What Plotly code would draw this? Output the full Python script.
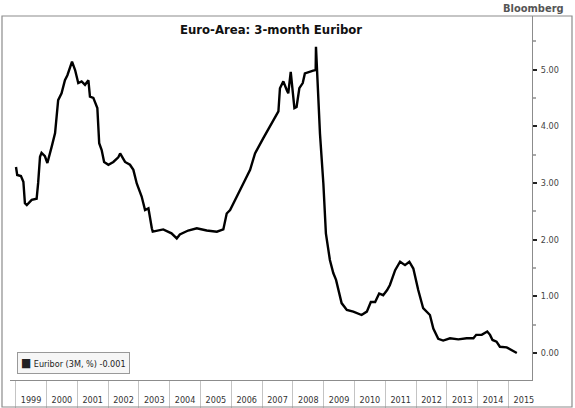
import plotly.graph_objects as go
import pandas as pd

# decimal year positions and 3-month Euribor values (%)
years_dec = [
    1999.01, 1999.05, 1999.17, 1999.25, 1999.30, 1999.36, 1999.52, 1999.68, 1999.73, 1999.79,
    1999.84, 1999.95, 2000.03, 2000.09, 2000.17, 2000.28, 2000.38, 2000.49, 2000.60, 2000.68,
    2000.74, 2000.83, 2000.93, 2001.03, 2001.14, 2001.25, 2001.36, 2001.41, 2001.52, 2001.65,
    2001.71, 2001.79, 2001.87, 2002.01, 2002.17, 2002.33, 2002.39, 2002.55, 2002.71, 2002.82,
    2002.93, 2003.09, 2003.20, 2003.31, 2003.42, 2003.45, 2003.79, 2004.06, 2004.23, 2004.33,
    2004.60, 2004.88, 2005.20, 2005.53, 2005.74, 2005.85, 2005.96, 2006.28, 2006.39, 2006.61,
    2006.77, 2007.04, 2007.36, 2007.53, 2007.58, 2007.69, 2007.80, 2007.85, 2007.93, 2007.99,
    2008.05, 2008.12, 2008.21, 2008.32, 2008.39, 2008.66, 2008.74, 2008.75, 2008.79, 2008.88,
    2008.99, 2009.04, 2009.07, 2009.20, 2009.31, 2009.40, 2009.47, 2009.58, 2009.75, 2009.96,
    2010.23, 2010.40, 2010.53, 2010.67, 2010.80, 2010.93, 2011.06, 2011.15, 2011.32, 2011.48,
    2011.64, 2011.78, 2011.91, 2012.07, 2012.23, 2012.45, 2012.56, 2012.72, 2012.88, 2013.10,
    2013.37, 2013.64, 2013.86, 2013.95, 2014.13, 2014.31, 2014.40, 2014.48, 2014.61, 2014.72,
    2014.94, 2015.10, 2015.27,
]
euribor = [
    3.28, 3.14, 3.12, 3.02, 2.64, 2.61, 2.70, 2.72, 3.00, 3.46,
    3.53, 3.47, 3.35, 3.46, 3.64, 3.88, 4.46, 4.58, 4.81, 4.90,
    4.99, 5.14, 4.99, 4.76, 4.79, 4.73, 4.81, 4.52, 4.50, 4.32,
    3.70, 3.58, 3.37, 3.32, 3.37, 3.45, 3.52, 3.37, 3.32, 3.23,
    2.99, 2.76, 2.52, 2.55, 2.20, 2.14, 2.18, 2.11, 2.02, 2.09,
    2.16, 2.20, 2.16, 2.14, 2.18, 2.46, 2.52, 2.85, 2.99, 3.23,
    3.52, 3.79, 4.11, 4.26, 4.67, 4.79, 4.64, 4.58, 4.96, 4.64,
    4.32, 4.34, 4.67, 4.76, 4.93, 4.98, 4.99, 5.40, 4.96, 3.87,
    2.99, 2.52, 2.11, 1.64, 1.41, 1.29, 1.11, 0.88, 0.76, 0.73,
    0.67, 0.73, 0.90, 0.90, 1.05, 1.02, 1.11, 1.20, 1.46, 1.61,
    1.55, 1.61, 1.49, 1.11, 0.79, 0.67, 0.43, 0.25, 0.22, 0.26,
    0.24, 0.26, 0.26, 0.32, 0.32, 0.38, 0.32, 0.23, 0.20, 0.11,
    0.10, 0.05, 0.00,
]
y_ticks = [0, 1, 2, 3, 4, 5]
legend_label = "Euribor (3M, %) -0.001"
title_text = "Euro-Area: 3-month Euribor"


def to_date(d):
    y = int(d)
    start = pd.Timestamp(year=y, month=1, day=1)
    return start + pd.Timedelta(days=(d - y) * 365.25)


dates = [to_date(d) for d in years_dec]

W, H = 575, 408
L, R, T, B = 10, 532, 16, 380  # plot area in pixels

fig = go.Figure()
fig.add_trace(go.Scatter(x=dates, y=euribor, mode="lines",
                         line=dict(color="#000000", width=2.4), showlegend=False,
                         hoverinfo="skip"))


def px_x(p):
    return (p - L) / (R - L)


def px_y(p):
    return (B - p) / (B - T)


grey = "#8c8c8c"
fig.update_layout(
    width=W, height=H,
    margin=dict(l=L, r=W - R, t=T, b=H - B, pad=0, autoexpand=False),
    paper_bgcolor="white", plot_bgcolor="white",
    title=dict(text=title_text, x=0.5, xref="paper", xanchor="center",
               y=1 - 29 / H, yref="container", yanchor="middle",
               font=dict(family="DejaVu Sans Condensed", size=13, color="#111", weight="bold")),
    xaxis=dict(type="date", automargin=False,
               range=[to_date(1999 + (L - 15.7) / 30.8), to_date(1999 + (R - 15.7) / 30.8)],
               showgrid=False, zeroline=False, showline=True, linecolor=grey, linewidth=1,
               ticks="outside", ticklen=28, tickcolor="#c4c4c4", tickwidth=1,
               dtick="M12", tick0="1999-01-01", tickformat="%Y",
               ticklabelmode="period", ticklabelstandoff=-17,
               tickfont=dict(family="DejaVu Sans Condensed", size=9, color="#333"),
               fixedrange=True),
    yaxis=dict(side="right", automargin=False, range=[(353 - B) / 56.7, (353 - T) / 56.7],
               tickvals=y_ticks, tickformat=".2f",
               showgrid=False, zeroline=False, showline=True, linecolor=grey, linewidth=1,
               ticks="outside", ticklen=4, tickwidth=2, tickcolor="#222",
               ticklabelstandoff=2,
               tickfont=dict(family="DejaVu Sans Condensed", size=9, color="#444"),
               minor=dict(ticks="outside", ticklen=3, tickcolor="#aaa", dtick=0.5, tick0=0.5,
                          showgrid=False),
               fixedrange=True),
)

# outer frame
fig.add_shape(type="rect", xref="paper", yref="paper",
              x0=px_x(2), x1=px_x(572), y0=px_y(407), y1=px_y(16),
              line=dict(color=grey, width=1.2), fillcolor="rgba(0,0,0,0)", layer="above")

# Bloomberg tag
fig.add_annotation(text="<b>Bloomberg</b>", xref="paper", yref="paper",
                   x=px_x(566), y=px_y(8), xanchor="right", yanchor="middle",
                   showarrow=False, font=dict(family="DejaVu Sans Condensed", size=11, color="#555"))

# legend box
fig.add_annotation(text="<span style='font-size:12px'>■</span> " + legend_label,
                   xref="paper", yref="paper",
                   x=px_x(17), y=px_y(362.5), xanchor="left", yanchor="middle",
                   showarrow=False, align="left",
                   font=dict(family="DejaVu Sans Condensed", size=9, color="#222"),
                   bgcolor="#f6f6f6", bordercolor="#999", borderwidth=1, borderpad=3)

fig.write_html("out.html")
